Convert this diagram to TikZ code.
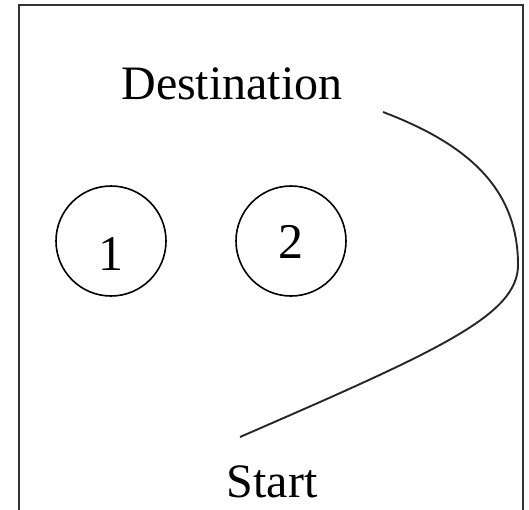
\documentclass[tikz,border=0pt]{standalone}
\usepackage{fontspec}
\setmainfont{Liberation Serif}
\usetikzlibrary{positioning}

\begin{document}
\begin{tikzpicture}[
  x=1pt, y=-1pt,
  %% Node styles
  place/.style={
    circle, draw=black, line width=1.6pt,
    minimum size=110pt, inner sep=0pt, text depth=0pt,
    font=\fontsize{50}{54}\selectfont
  },
  label/.style={
    inner sep=0pt, font=\fontsize{48}{54}\selectfont
  },
  %% Line styles
  frame/.style={draw=black!80, line width=2.4pt},
  route/.style={line width=1.9pt, draw=black!85},
]

\useasboundingbox (0,0) rectangle (529,509);
\clip (0,0) rectangle (529,509);

%% ── Frame ──────────────────────────────────────────────────────────────────
\draw[frame] (19,5) rectangle (523,530);

%% ── Labels ─────────────────────────────────────────────────────────────────
\node[label, anchor=base] (dest)  at (232,99)  {Destination};
\node[label, anchor=base] (start) at (272,497) {Start};

%% ── Places ─────────────────────────────────────────────────────────────────
\node[place, text height=58pt] (p1) at (111,241) {1};
\node[place, text height=34pt] (p2) at (291,241) {2};

%% ── Route ──────────────────────────────────────────────────────────────────
\coordinate (rdest)  at (383,112);
\coordinate (rturn)  at (518,265);
\coordinate (rstart) at (240,437);
\draw[route] (rdest) .. controls (470,145) and (518,190) .. (rturn)
                     .. controls (518,315) and (440,350) .. (rstart);

\end{tikzpicture}
\end{document}
